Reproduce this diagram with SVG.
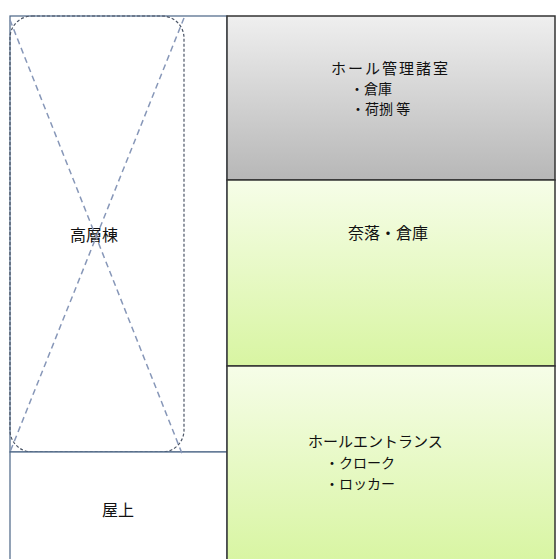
<svg xmlns="http://www.w3.org/2000/svg" width="558" height="559" viewBox="0 0 558 559">
<defs>
<linearGradient id="gGray" x1="0" y1="0" x2="0" y2="1">
<stop offset="0" stop-color="#efefef"/>
<stop offset="1" stop-color="#b7b7b7"/>
</linearGradient>
<linearGradient id="gGreen" x1="0" y1="0" x2="0" y2="1">
<stop offset="0" stop-color="#f6fde8"/>
<stop offset="1" stop-color="#d8f5a2"/>
</linearGradient>
</defs>
<style>
text{font-family:"Noto Sans CJK JP","Noto Sans CJK SC",sans-serif;font-size:16px;fill:#111}
.md{font-size:15px}
.sm{font-size:14px}
.ls{letter-spacing:2px}
.left{fill:#fff;stroke:#4a6485;stroke-width:1.2}
.right{stroke:#333;stroke-width:1.5}
.tower{fill:none;stroke:#4b5566;stroke-width:1.2;stroke-dasharray:3 2}
.cross{fill:none;stroke:#8797b8;stroke-width:1.5;stroke-dasharray:6 4}
</style>
<rect width="558" height="559" fill="#fff"/>
<g id="tower-block">
<rect class="left" x="10" y="16" width="217" height="436"/>
<rect class="tower" x="10" y="16" width="174" height="436" rx="22"/>
<text x="94" y="241" text-anchor="middle">高層棟</text>
</g>
<g id="rooftop">
<rect class="left" x="10" y="452" width="217" height="110"/>
<text x="118" y="516" text-anchor="middle">屋上</text>
</g>
<g id="connectors">
<line class="cross" x1="10" y1="20" x2="183" y2="456"/>
<line class="cross" x1="184" y1="18" x2="10" y2="452"/>
</g>
<g id="hall-rooms">
<rect class="right" x="227" y="16" width="328" height="164" fill="url(#gGray)"/>
<text class="md ls" x="331" y="74">ホール管理諸室</text>
<text class="sm" x="350" y="94">・倉庫</text>
<text class="sm" x="351" y="114">・荷捌 等</text>
</g>
<g id="naraku">
<rect class="right" x="227" y="180" width="328" height="186" fill="url(#gGreen)"/>
<text x="388" y="239" text-anchor="middle">奈落・倉庫</text>
</g>
<g id="entrance">
<rect class="right" x="227" y="366" width="328" height="196" fill="url(#gGreen)"/>
<text class="md" x="308" y="447">ホールエントランス</text>
<text class="sm" x="325" y="468">・クローク</text>
<text class="sm" x="325" y="489">・ロッカー</text>
</g>
</svg>
